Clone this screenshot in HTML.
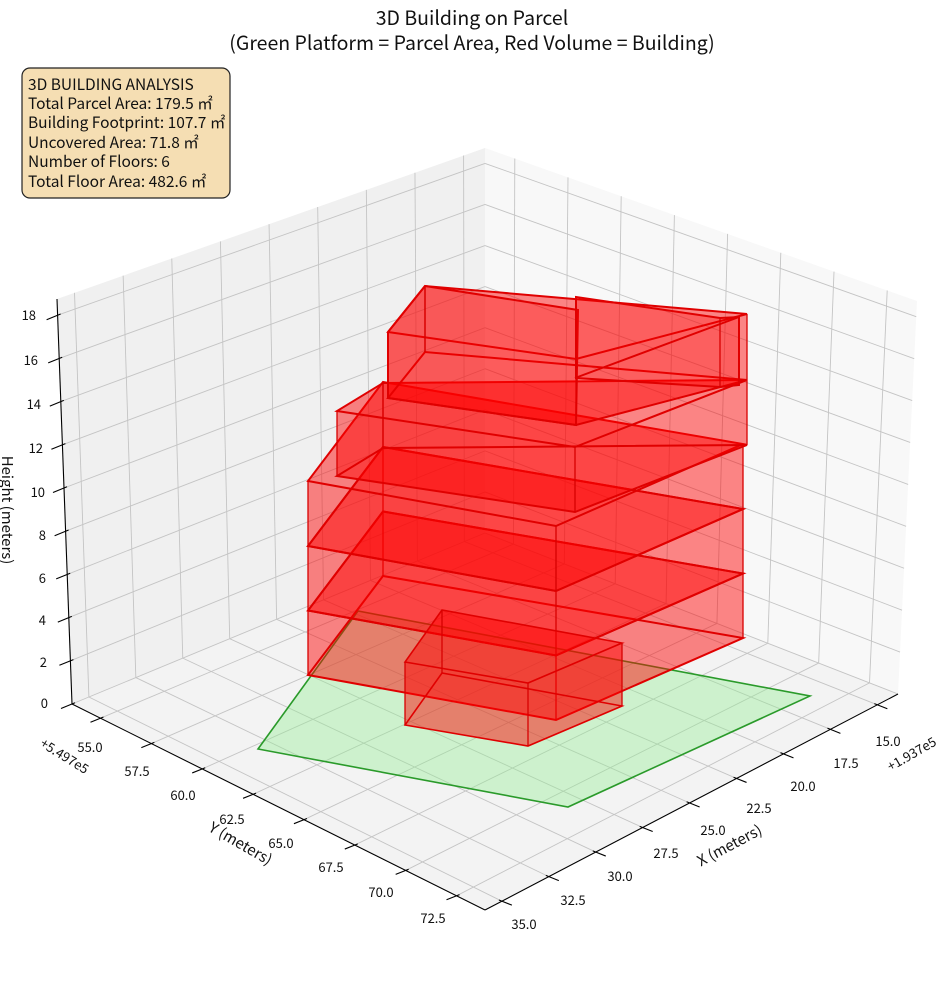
<!DOCTYPE html>
<html><head><meta charset="utf-8">
<style>
html,body{margin:0;padding:0;background:#fff;}
svg{display:block;font-family:"Noto Sans CJK JP","Liberation Sans",sans-serif;}
</style></head>
<body>
<svg id="s" width="944" height="992" viewBox="0 0 944 992" xmlns="http://www.w3.org/2000/svg">
<rect width="944" height="992" fill="#fff"/>
<g id="panes"></g>
<g id="grid" stroke="#c4c4c4" stroke-width="0.9" fill="none"></g>
<g id="parcel"></g>
<g id="bld"></g>
<g id="axes" stroke="#000" stroke-width="1.1" fill="none"></g>
<text x="472" y="25" font-size="19.5" text-anchor="middle" fill="#111">3D Building on Parcel</text>
<text x="472" y="50" font-size="19.5" text-anchor="middle" fill="#111">(Green Platform = Parcel Area, Red Volume = Building)</text>
<rect x="22" y="68" width="208" height="130" rx="8" ry="8" fill="#f5deb3" stroke="#222" stroke-width="1.2"/>
<g font-size="15.5" fill="#111">
<text x="28" y="90">3D BUILDING ANALYSIS</text>
<text x="28" y="109">Total Parcel Area: 179.5 ㎡</text>
<text x="28" y="128">Building Footprint: 107.7 ㎡</text>
<text x="28" y="148">Uncovered Area: 71.8 ㎡</text>
<text x="28" y="167">Number of Floors: 6</text>
<text x="28" y="187">Total Floor Area: 482.6 ㎡</text>
</g>
<g font-size="13" fill="#111" text-anchor="end">
<text x="36" y="320">18</text><text x="38" y="365">16</text><text x="41" y="409">14</text>
<text x="43" y="453">12</text><text x="45" y="497">10</text><text x="46" y="540">8</text>
<text x="46" y="583">6</text><text x="46" y="625">4</text><text x="47" y="667">2</text><text x="48" y="708">0</text>
</g>
<g font-size="13" fill="#111" text-anchor="middle">
<text x="90" y="752">55.0</text><text x="137" y="776">57.5</text><text x="183" y="800">60.0</text>
<text x="232" y="824">62.5</text><text x="281" y="848">65.0</text><text x="331" y="872">67.5</text>
<text x="381" y="897">70.0</text><text x="433" y="923">72.5</text>
<text x="888" y="746">15.0</text><text x="846" y="768">17.5</text><text x="803" y="791">20.0</text>
<text x="759" y="813">22.5</text><text x="713" y="835">25.0</text><text x="666" y="858">27.5</text>
<text x="620" y="881">30.0</text><text x="573" y="905">32.5</text><text x="524" y="929">35.0</text>
</g>
<text transform="translate(62,760) rotate(32)" font-size="13" text-anchor="middle" fill="#111">+5.497e5</text>
<text transform="translate(914,758) rotate(-30)" font-size="13" text-anchor="middle" fill="#111">+1.937e5</text>
<text transform="translate(238,848) rotate(30)" font-size="15" text-anchor="middle" fill="#111">Y (meters)</text>
<text transform="translate(732,850) rotate(-28)" font-size="15" text-anchor="middle" fill="#111">X (meters)</text>
<text transform="translate(2,510) rotate(90)" font-size="15" text-anchor="middle" fill="#111">Height (meters)</text>
</svg>
<script>
(function(){
var NS="http://www.w3.org/2000/svg";
function el(p,t,a){var e=document.createElementNS(NS,t);for(var k in a)e.setAttribute(k,a[k]);p.appendChild(e);return e;}
var zm=18.75,X0=13.9,X1=35.9,Y0=53.6,Y1=73.9;
var Bk=[485,533],Lc=[72,704],Rc=[898,694],Fr=[485,910];
var uBk=[0,-385],uLc=[-15,-405],uRc=[19,-393],uFr=[4,-414];
function bil(a,b,c,d,fx,fy){
 return [a[0]*(1-fx)*(1-fy)+b[0]*fx*(1-fy)+c[0]*(1-fx)*fy+d[0]*fx*fy,
         a[1]*(1-fx)*(1-fy)+b[1]*fx*(1-fy)+c[1]*(1-fx)*fy+d[1]*fx*fy];}
function P(X,Y,Z){var fx=(X-X0)/(X1-X0),fy=(Y-Y0)/(Y1-Y0);
 var b=bil(Bk,Lc,Rc,Fr,fx,fy),u=bil(uBk,uLc,uRc,uFr,fx,fy);
 return [b[0]+u[0]*Z/zm,b[1]+u[1]*Z/zm];}
function pts(a){return a.map(function(p){return p[0].toFixed(1)+","+p[1].toFixed(1);}).join(" ");}
var panes=document.getElementById("panes");
el(panes,"polygon",{points:pts([P(X0,Y0,0),P(X1,Y0,0),P(X1,Y0,zm),P(X0,Y0,zm)]),fill:"#f0f0f0"});
el(panes,"polygon",{points:pts([P(X0,Y0,0),P(X0,Y1,0),P(X0,Y1,zm),P(X0,Y0,zm)]),fill:"#f8f8f8"});
el(panes,"polygon",{points:pts([P(X0,Y0,0),P(X1,Y0,0),P(X1,Y1,0),P(X0,Y1,0)]),fill:"#f3f3f3"});
var g=document.getElementById("grid");
function line(p,a,b){el(p,"line",{x1:a[0],y1:a[1],x2:b[0],y2:b[1]});}
var xs=[15,17.5,20,22.5,25,27.5,30,32.5,35],ys=[55,57.5,60,62.5,65,67.5,70,72.5],zs=[0,2,4,6,8,10,12,14,16,18];
xs.forEach(function(x){line(g,P(x,Y0,0),P(x,Y1,0));line(g,P(x,Y0,0),P(x,Y0,zm));});
ys.forEach(function(y){line(g,P(X0,y,0),P(X1,y,0));line(g,P(X0,y,0),P(X0,y,zm));});
zs.forEach(function(z){line(g,P(X0,Y0,z),P(X1,Y0,z));line(g,P(X0,Y0,z),P(X0,Y1,z));});
var ax=document.getElementById("axes");
line(ax,P(X1,Y0,0),P(X1,Y0,zm));line(ax,P(X1,Y0,0),P(X1,Y1,0));line(ax,P(X1,Y1,0),P(X0,Y1,0));
zs.forEach(function(z){var p=P(X1,Y0,z);line(ax,[p[0]+3,p[1]-1.2],[p[0]-11,p[1]+4.5]);});
ys.forEach(function(y){var p=P(X1,y,0);line(ax,[p[0]+3,p[1]-1.2],[p[0]-10,p[1]+4]);});
xs.forEach(function(x){var p=P(x,Y1,0);line(ax,[p[0]-3,p[1]-1.2],[p[0]+10,p[1]+4]);});
var pc=document.getElementById("parcel");
el(pc,"polygon",{points:"258,749 358,611 810,696 568,807",fill:"rgba(144,238,144,0.38)",stroke:"#2a9a2a","stroke-width":1.6});
var B=document.getElementById("bld");
function prism(q,dy,sw){
 var t=q.map(function(p){return [p[0],p[1]+dy];});
 var faces=[q,t];
 for(var i=0;i<4;i++){var j=(i+1)%4;faces.push([q[i],q[j],t[j],t[i]]);}
 faces.forEach(function(f){el(B,"polygon",{points:pts(f),fill:"rgba(255,0,0,0.27)",stroke:"none"});});
 el(B,"polygon",{points:pts(q),fill:"none",stroke:"#e00000","stroke-width":sw||2});
 el(B,"polygon",{points:pts(t),fill:"none",stroke:"#e00000","stroke-width":sw||2});
 for(var i=0;i<4;i++)line2(q[i],t[i]);
}
function line2(a,b){el(B,"line",{x1:a[0],y1:a[1],x2:b[0],y2:b[1],stroke:"#d80000","stroke-width":1.3});}
var S1=[[308,675],[556,720],[743,638],[383,576]];
function sh(q,dy){return q.map(function(p){return [p[0],p[1]+dy];});}
prism(S1,-64.5);
prism(sh(S1,-64.5),-64.5);
prism(sh(S1,-129),-65);
prism([[337,476],[575,512],[747,445],[383,448]],-65);
prism([[388,398],[576,425],[747,380],[425,352]],-66);
el(B,"polygon",{points:"388,332 425,286 578,310 576,425 388,398",fill:"rgba(255,0,0,0.3)",stroke:"#e00000","stroke-width":2});
line2([425,286],[425,352]);
el(B,"polygon",{points:"576,297 720,318 739,317 739,385 720,387 576,378",fill:"rgba(255,0,0,0.28)",stroke:"#e00000","stroke-width":2});
el(B,"polyline",{points:"575,378 739,317",fill:"none",stroke:"#e00000","stroke-width":2});
line2([720,318],[720,387]);
prism([[405,725],[528,746],[622,706],[442,673]],-63,1.6);
})();
</script>
</body></html>
